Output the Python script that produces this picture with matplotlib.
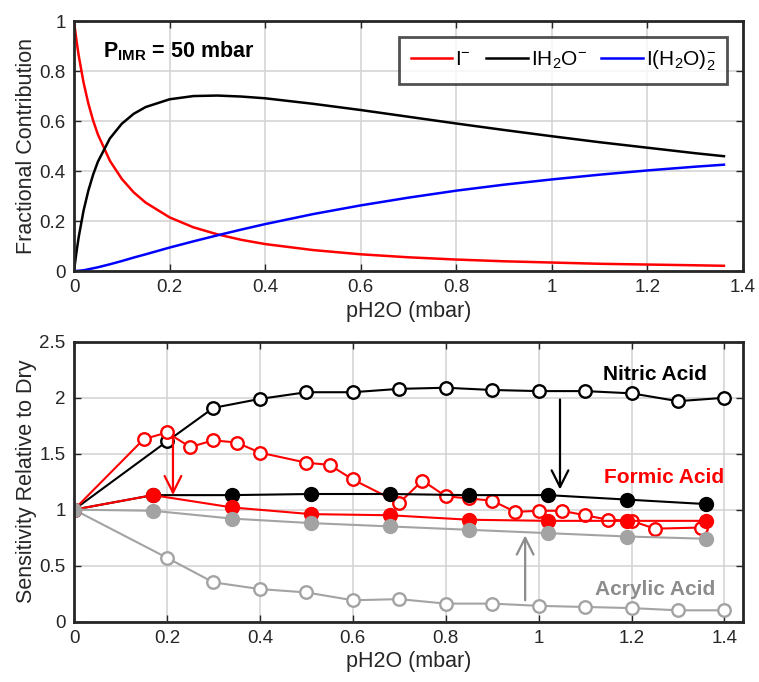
import matplotlib
matplotlib.use('Agg')
import matplotlib.pyplot as plt

plt.rcParams['font.family'] = ['Liberation Sans', 'DejaVu Sans']
plt.rcParams['mathtext.fontset'] = 'custom'
plt.rcParams['mathtext.rm'] = 'Liberation Sans'
plt.rcParams['mathtext.it'] = 'Liberation Sans:italic'
plt.rcParams['mathtext.bf'] = 'Liberation Sans:bold'

# top panel: fractional contribution of the iodide clusters vs pH2O
p_h2o = [0, 0.005, 0.01, 0.02, 0.03, 0.04, 0.05, 0.075, 0.1, 0.125, 0.15, 0.2, 0.25,
         0.3, 0.35, 0.4, 0.5, 0.6, 0.7, 0.8, 0.9, 1.0, 1.1, 1.2, 1.3, 1.36]
frac_i = [1.0, 0.926, 0.861, 0.755, 0.671, 0.603, 0.547, 0.442, 0.369, 0.315, 0.274,
          0.215, 0.175, 0.147, 0.125, 0.108, 0.084, 0.067, 0.055, 0.046, 0.039, 0.034,
          0.029, 0.026, 0.023, 0.021]
frac_ih2o = [0.0, 0.074, 0.138, 0.242, 0.322, 0.386, 0.438, 0.531, 0.590, 0.630, 0.657,
             0.688, 0.701, 0.703, 0.699, 0.692, 0.670, 0.645, 0.618, 0.591, 0.565, 0.540,
             0.516, 0.494, 0.472, 0.460]
frac_ih2o2 = [0.0, 0.0003, 0.001, 0.003, 0.007, 0.011, 0.015, 0.027, 0.040, 0.054, 0.067,
              0.094, 0.119, 0.143, 0.166, 0.188, 0.228, 0.263, 0.294, 0.322, 0.346, 0.367,
              0.386, 0.403, 0.418, 0.426]

# bottom panel: sensitivity relative to dry
x_open = [0, 0.2, 0.3, 0.4, 0.5, 0.6, 0.7, 0.8, 0.9, 1.0, 1.1, 1.2, 1.3, 1.4]
nitric_open = [1, 1.61, 1.91, 1.99, 2.05, 2.05, 2.08, 2.09, 2.07, 2.06, 2.06, 2.04, 1.97, 2.0]
acrylic_open = [1, 0.57, 0.35, 0.29, 0.26, 0.19, 0.2, 0.16, 0.16, 0.14, 0.13, 0.12, 0.1, 0.1]

x_formic_open = [0, 0.15, 0.2, 0.25, 0.3, 0.35, 0.4, 0.5, 0.55, 0.6, 0.7, 0.75, 0.8, 0.85,
                 0.9, 0.95, 1.0, 1.05, 1.1, 1.15, 1.2, 1.25, 1.35]
formic_open = [1, 1.63, 1.69, 1.56, 1.62, 1.60, 1.51, 1.42, 1.40, 1.27, 1.06, 1.26, 1.12,
               1.10, 1.08, 0.98, 0.99, 0.99, 0.95, 0.91, 0.90, 0.83, 0.84]

x_filled = [0, 0.17, 0.34, 0.51, 0.68, 0.85, 1.02, 1.19, 1.36]
nitric_filled = [1, 1.13, 1.13, 1.14, 1.14, 1.13, 1.13, 1.09, 1.05]
formic_filled = [1, 1.13, 1.02, 0.96, 0.95, 0.91, 0.90, 0.90, 0.90]
acrylic_filled = [1, 0.99, 0.92, 0.88, 0.85, 0.82, 0.79, 0.76, 0.74]

txt = '#262626'
gray = '#a3a3a3'
dgray = '#8c8c8c'

fig = plt.figure(figsize=(7.59, 6.82), dpi=100)
ax1 = fig.add_axes([0.0975, 0.6026, 0.8815, 0.366])
ax2 = fig.add_axes([0.0975, 0.0887, 0.8815, 0.41])


def style(ax):
    ax.grid(True, color='#d2d2d2', lw=1.1)
    ax.set_axisbelow(True)
    ax.tick_params(direction='in', top=True, right=True, length=5, width=1,
                   colors=txt, labelsize=13.5, pad=6)
    for s in ax.spines.values():
        s.set_linewidth(2)
        s.set_color(txt)
    ax.xaxis.set_major_formatter(plt.FuncFormatter(lambda v, p: '%g' % round(v, 2)))
    ax.yaxis.set_major_formatter(plt.FuncFormatter(lambda v, p: '%g' % round(v, 2)))


# top panel
ax1.plot(p_h2o, frac_i, color='#ff0000', lw=1.8, label=r'I$^{-}$')
ax1.plot(p_h2o, frac_ih2o, color='black', lw=1.8, label=r'IH$_2$O$^{-}$')
ax1.plot(p_h2o, frac_ih2o2, color='#0000ff', lw=1.8, label=r'I(H$_2$O)$_2^{-}$')
ax1.set_xlim(0, 1.4)
ax1.set_ylim(0, 1)
ax1.set_xticks([0, 0.2, 0.4, 0.6, 0.8, 1.0, 1.2, 1.4])
ax1.set_yticks([0, 0.2, 0.4, 0.6, 0.8, 1.0])
style(ax1)
ax1.set_xlabel('pH2O (mbar)', fontsize=15.5, color=txt, labelpad=3)
ax1.set_ylabel('Fractional Contribution', fontsize=15.5, color=txt, labelpad=2)
ax1.text(0.06, 0.88, r'P$_{\mathbf{IMR}}$ = 50 mbar', fontsize=15.5, fontweight='bold',
         color='black', va='center')
leg = ax1.legend(ncol=3, loc='upper right', fontsize=15, frameon=True, fancybox=False,
                 edgecolor=txt, handlelength=2.0, handletextpad=0.15, columnspacing=0.7,
                 borderaxespad=0.75, borderpad=0.55)
leg.get_frame().set_linewidth(2)

# bottom panel
mk_open = dict(marker='o', ms=9, mfc='white', mew=1.7, lw=1.5)
mk_fill = dict(marker='o', ms=10, lw=1.5)
ax2.plot(x_open, nitric_open, color='black', **mk_open)
ax2.plot(x_formic_open, formic_open, color='#ff0000', **mk_open)
ax2.plot(x_open, acrylic_open, color=gray, **mk_open)
ax2.plot(x_filled, nitric_filled, color='black', **mk_fill)
ax2.plot(x_filled, formic_filled, color='#ff0000', **mk_fill)
ax2.plot(x_filled, acrylic_filled, color=gray, **mk_fill)
ax2.set_xlim(0, 1.44)
ax2.set_ylim(0, 2.5)
ax2.set_xticks([0, 0.2, 0.4, 0.6, 0.8, 1.0, 1.2, 1.4])
ax2.set_yticks([0, 0.5, 1.0, 1.5, 2.0, 2.5])
style(ax2)
ax2.set_xlabel('pH2O (mbar)', fontsize=15.5, color=txt, labelpad=3)
ax2.set_ylabel('Sensitivity Relative to Dry', fontsize=15.5, color=txt, labelpad=2)

ax2.text(1.25, 2.21, 'Nitric Acid', fontsize=15, fontweight='bold', color='black',
         ha='center', va='center')
ax2.text(1.27, 1.29, 'Formic Acid', fontsize=15, fontweight='bold', color='#ff0000',
         ha='center', va='center')
ax2.text(1.25, 0.29, 'Acrylic Acid', fontsize=15, fontweight='bold', color=dgray,
         ha='center', va='center')

arr = dict(arrowstyle='->,head_length=0.6,head_width=0.3', lw=1.6, shrinkA=0, shrinkB=0,
           mutation_scale=20)
ax2.annotate('', xy=(0.213, 1.13), xytext=(0.213, 1.66), arrowprops=dict(color='#ff0000', **arr))
ax2.annotate('', xy=(1.046, 1.18), xytext=(1.046, 1.985), arrowprops=dict(color='black', **arr))
ax2.annotate('', xy=(0.971, 0.77), xytext=(0.971, 0.19), arrowprops=dict(color=dgray, **arr))

fig.savefig('out.png', dpi=100)
